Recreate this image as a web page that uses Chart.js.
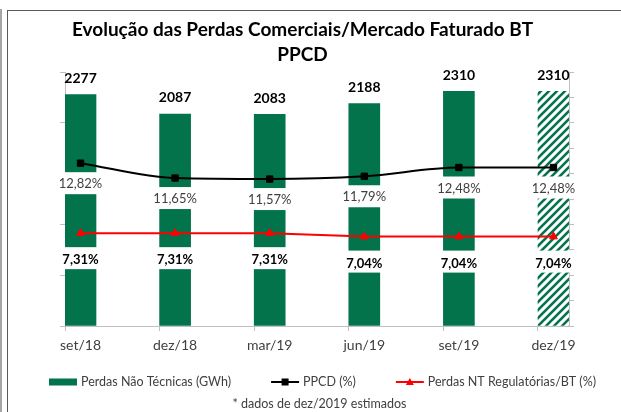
<!DOCTYPE html>
<html lang="pt">
<head>
<meta charset="utf-8">
<script src="https://cdn.jsdelivr.net/npm/chart.js@4.4.0/dist/chart.umd.min.js"></script>
<style>
  html, body { margin: 0; padding: 0; background: #fff; }
  #wrap { position: relative; width: 621px; height: 412px; overflow: hidden; }
  #grafico { position: absolute; left: 0; top: 0; }
  .borda-ext { position: absolute; left: 0; top: 9px; width: 2px; height: 410px; background: #a6a6a6; }
  .borda { position: absolute; left: 7px; top: 10px; right: -2px; bottom: -2px; border-left: 1px solid #595959; border-top: 1px solid #595959; }
</style>
</head>
<body>
<div id="wrap">
  <canvas id="grafico" width="621" height="412"></canvas>
  <div class="borda-ext"></div>
  <div class="borda"></div>
</div>
<script>
const categorias = ['set/18', 'dez/18', 'mar/19', 'jun/19', 'set/19', 'dez/19'];
const perdasGWh = [2277, 2087, 2083, 2188, 2310, 2310];
const ppcd = [12.82, 11.65, 11.57, 11.79, 12.48, 12.48];
const perdasReg = [7.31, 7.31, 7.31, 7.04, 7.04, 7.04];
const estimado = [false, false, false, false, false, true];
const nota = '* dados de dez/2019 estimados';

const verde = '#03734b';
const desloc = 0.164;  // barras encostadas nos eixos, como no Excel

// hachura do valor estimado
function hachura() {
    const c = document.createElement('canvas');
    c.width = 8; c.height = 8;
    const g = c.getContext('2d');
    g.fillStyle = '#fff';
    g.fillRect(0, 0, 8, 8);
    g.strokeStyle = verde;
    g.lineWidth = 2.6;
    g.beginPath();
    g.moveTo(-2, 10); g.lineTo(10, -2);
    g.moveTo(-6, 6); g.lineTo(6, -6);
    g.moveTo(2, 14); g.lineTo(14, 2);
    g.stroke();
    return g.createPattern(c, 'repeat');
}
const padrao = hachura();

const fmtPct = v => v.toFixed(2).replace('.', ',') + '%';

// rotulos com fundo branco (cobrem barras e eixos como no original)
const rotulos = {
    id: 'rotulos',
    afterDraw(chart) {
        const ctx = chart.ctx;
        ctx.save();
        ctx.textAlign = 'center';
        ctx.textBaseline = 'middle';

        chart.getDatasetMeta(0).data.forEach((bar, i) => {
            ctx.font = 'bold 14px Lato';
            ctx.fillStyle = '#000';
            ctx.fillText(String(perdasGWh[i]), bar.x, bar.y - 16);
        });

        chart.getDatasetMeta(1).data.forEach((pt, i) => {
            const txt = fmtPct(ppcd[i]);
            ctx.font = '13px Lato';
            const w = ctx.measureText(txt).width + 6;
            ctx.fillStyle = '#fff';
            ctx.fillRect(pt.x - w / 2, pt.y + 9, w, 22);
            ctx.fillStyle = '#404040';
            ctx.fillText(txt, pt.x, pt.y + 21);
        });

        chart.getDatasetMeta(2).data.forEach((pt, i) => {
            const txt = fmtPct(perdasReg[i]);
            ctx.font = 'bold 13px Lato';
            const w = ctx.measureText(txt).width + 6;
            ctx.fillStyle = '#fff';
            ctx.fillRect(pt.x - w / 2, pt.y + 14, w, 22);
            ctx.fillStyle = '#000';
            ctx.fillText(txt, pt.x, pt.y + 27);
        });
        ctx.restore();
    }
};

// legenda e nota de rodape
const legenda = {
    id: 'legenda',
    afterDraw(chart) {
        const ctx = chart.ctx;
        const y = 382;
        let x = 49;
        ctx.save();
        ctx.font = '12.5px Lato';
        ctx.textBaseline = 'middle';
        ctx.textAlign = 'left';
        chart.data.datasets.forEach(ds => {
            if (ds.type === 'bar') {
                ctx.fillStyle = verde;
                ctx.fillRect(x, y - 3.5, 28, 7);
            } else {
                ctx.strokeStyle = ds.borderColor;
                ctx.fillStyle = ds.borderColor;
                ctx.lineWidth = 2;
                ctx.beginPath();
                ctx.moveTo(x, y); ctx.lineTo(x + 28, y);
                ctx.stroke();
                ctx.beginPath();
                if (ds.pointStyle === 'rect') {
                    ctx.rect(x + 14 - 3.5, y - 3.5, 7, 7);
                } else {
                    ctx.moveTo(x + 14, y - 4);
                    ctx.lineTo(x + 18, y + 3);
                    ctx.lineTo(x + 10, y + 3);
                    ctx.closePath();
                }
                ctx.fill();
            }
            ctx.fillStyle = '#404040';
            ctx.fillText(ds.label, x + 32, y);
            x += 32 + ctx.measureText(ds.label).width + 40;
        });
        ctx.textAlign = 'center';
        ctx.fillText(nota, 319.5, 404);
        ctx.restore();
    }
};

const eixoCinza = '#bfbfbf';

new Chart(document.getElementById('grafico'), {
    data: {
        datasets: [
            {
                type: 'bar',
                label: 'Perdas Não Técnicas (GWh)',
                data: perdasGWh.map((v, i) => ({ x: i, y: v })),
                backgroundColor: ctx => estimado[ctx.dataIndex] ? padrao : verde,
                barThickness: 31,
                yAxisID: 'y',
                order: 2
            },
            {
                type: 'line',
                label: 'PPCD (%)',
                data: ppcd.map((v, i) => ({ x: i, y: v })),
                borderColor: '#000',
                borderWidth: 2,
                cubicInterpolationMode: 'monotone',
                pointStyle: 'rect',
                pointRadius: 4.5,
                pointBackgroundColor: '#000',
                pointBorderColor: '#000',
                pointBorderWidth: 1,
                yAxisID: 'y1',
                order: 1
            },
            {
                type: 'line',
                label: 'Perdas NT Regulatórias/BT (%)',
                data: perdasReg.map((v, i) => ({ x: i, y: v })),
                borderColor: '#ff0000',
                borderWidth: 2,
                tension: 0,
                pointStyle: 'triangle',
                pointRadius: 4.5,
                pointBackgroundColor: '#ff0000',
                pointBorderColor: '#ff0000',
                pointBorderWidth: 1,
                yAxisID: 'y1',
                order: 0
            }
        ]
    },
    options: {
        responsive: false,
        animation: false,
        layout: { padding: { left: 0, right: 16, top: 0, bottom: 0 } },
        scales: {
            x: {
                type: 'linear',
                offset: false,
                bounds: 'data',
                min: -desloc,
                max: categorias.length - 1 + desloc,
                afterBuildTicks: s => { s.ticks = categorias.map((c, i) => ({ value: i - desloc })); },
                afterFit: s => { s.height = 86; },
                grid: { drawOnChartArea: false, offset: false, color: eixoCinza, tickLength: 5 },
                border: { color: eixoCinza },
                ticks: {
                    callback: (v, i) => categorias[i],
                    labelOffset: 15.5,
                    padding: 6,
                    maxRotation: 0,
                    autoSkip: false,
                    color: '#404040',
                    font: { family: 'Lato', size: 14 }
                }
            },
            y: {
                position: 'left',
                min: 0,
                max: 2500,
                ticks: { stepSize: 500, display: false },
                afterFit: s => { s.width = 65; },
                grid: { drawOnChartArea: false, color: eixoCinza, tickLength: 5 },
                border: { color: eixoCinza }
            },
            y1: {
                position: 'right',
                min: 0,
                max: 20,
                ticks: { stepSize: 2, display: false },
                afterFit: s => { s.width = 36; },
                grid: { drawOnChartArea: false, color: eixoCinza, tickLength: 5 },
                border: { color: eixoCinza }
            }
        },
        plugins: {
            legend: { display: false },
            tooltip: { enabled: false },
            title: {
                display: true,
                text: ['Evolução das Perdas Comerciais/Mercado Faturado BT', 'PPCD'],
                color: '#000',
                font: { family: 'Lato', size: 19, weight: 'bold', lineHeight: '25px' },
                padding: { top: 17.5, bottom: 4.5 }
            }
        }
    },
    plugins: [rotulos, legenda]
});
</script>
</body>
</html>
